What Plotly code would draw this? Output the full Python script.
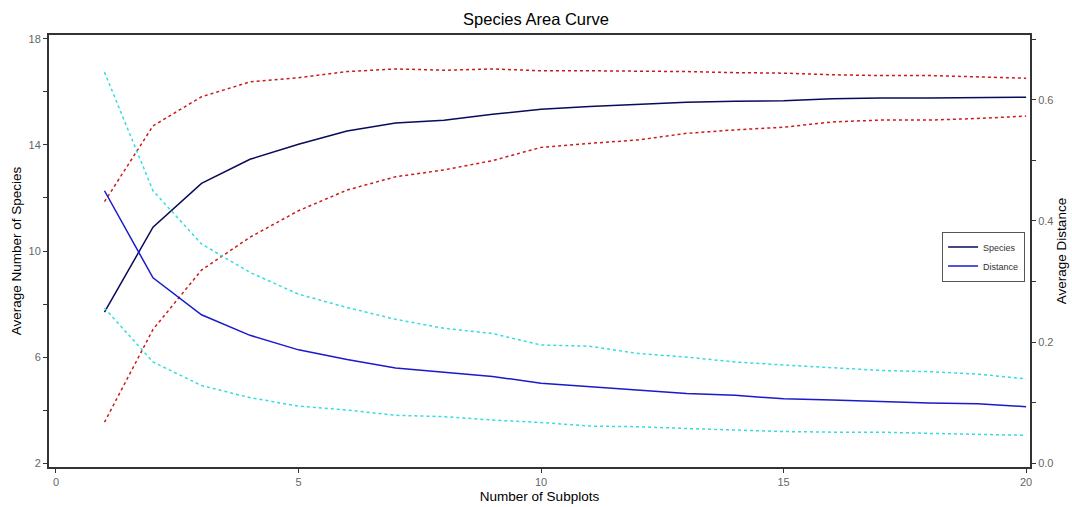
import plotly.graph_objects as go

subplots = list(range(1, 21))

species = [7.69, 10.9, 12.55, 13.46, 14.03, 14.53, 14.83, 14.93, 15.16, 15.35,
           15.45, 15.52, 15.61, 15.65, 15.67, 15.74, 15.77, 15.77, 15.78, 15.8]
species_upper = [11.86, 14.72, 15.82, 16.38, 16.54, 16.77, 16.87, 16.82, 16.87, 16.8,
                 16.8, 16.79, 16.77, 16.73, 16.71, 16.65, 16.62, 16.62, 16.58, 16.52]
species_lower = [3.54, 7.04, 9.28, 10.52, 11.52, 12.3, 12.8, 13.06, 13.41, 13.91,
                 14.06, 14.19, 14.44, 14.57, 14.67, 14.87, 14.94, 14.94, 15.0, 15.09]

distance = [0.45, 0.306, 0.245, 0.211, 0.187, 0.171, 0.157, 0.15, 0.143, 0.132,
            0.126, 0.121, 0.115, 0.112, 0.106, 0.104, 0.101, 0.099, 0.098, 0.093]
distance_upper = [0.646, 0.45, 0.362, 0.315, 0.279, 0.257, 0.2375, 0.2226, 0.214, 0.195,
                  0.193, 0.181, 0.175, 0.167, 0.162, 0.157, 0.153, 0.151, 0.147, 0.139]
distance_lower = [0.256, 0.167, 0.128, 0.108, 0.094, 0.0876, 0.0788, 0.0766, 0.071, 0.067,
                  0.061, 0.06, 0.057, 0.0545, 0.052, 0.051, 0.051, 0.049, 0.048, 0.0458]

left_ticks = [2, 4, 6, 8, 10, 12, 14, 16, 18]
left_labels = ["2", "", "6", "", "10", "", "14", "", "18"]
right_ticks = [0.0, 0.1, 0.2, 0.3, 0.4, 0.5, 0.6, 0.7]
right_labels = ["0.0", "", "0.2", "", "0.4", "", "0.6", ""]
x_ticks = [0, 5, 10, 15, 20]

NAVY = "#0a0a5a"
BLUE = "#1a1acc"
RED = "#cc1a1a"
CYAN = "#33dddd"

fig = go.Figure()
fig.add_trace(go.Scatter(x=subplots, y=species_upper, mode="lines",
                         line=dict(color=RED, width=1.5, dash="3px,3px"), showlegend=False))
fig.add_trace(go.Scatter(x=subplots, y=species_lower, mode="lines",
                         line=dict(color=RED, width=1.5, dash="3px,3px"), showlegend=False))
fig.add_trace(go.Scatter(x=subplots, y=distance_upper, mode="lines", yaxis="y2",
                         line=dict(color=CYAN, width=1.5, dash="3px,3px"), showlegend=False))
fig.add_trace(go.Scatter(x=subplots, y=distance_lower, mode="lines", yaxis="y2",
                         line=dict(color=CYAN, width=1.5, dash="3px,3px"), showlegend=False))
fig.add_trace(go.Scatter(x=subplots, y=species, mode="lines", name="Species",
                         line=dict(color=NAVY, width=1.5)))
fig.add_trace(go.Scatter(x=subplots, y=distance, mode="lines", name="Distance", yaxis="y2",
                         line=dict(color=BLUE, width=1.5)))

tickfont = dict(family="Liberation Sans, Arial, sans-serif", size=11, color="#666666")
titlefont = dict(family="Liberation Sans, Arial, sans-serif", size=13.5, color="#000000")

fig.update_layout(
    width=1072, height=507,
    margin=dict(l=49, r=42, t=35, b=40, autoexpand=False),
    paper_bgcolor="white", plot_bgcolor="white",
    title=dict(text="Species Area Curve", x=0.5, xanchor="center", y=0.962, yanchor="middle",
               font=dict(family="Liberation Sans, Arial, sans-serif", size=16.5, color="#000000")),
    xaxis=dict(range=[-0.144, 20.08], tickvals=x_ticks, showgrid=False, zeroline=False,
               automargin=False,
               showline=True, linecolor="#333333", linewidth=2, mirror=True,
               ticks="outside", ticklen=4, tickcolor="#333333", tickfont=tickfont,
               title=dict(text="Number of Subplots", font=titlefont, standoff=4)),
    yaxis=dict(range=[1.85, 18.15], tickvals=left_ticks, ticktext=left_labels,
               automargin=False,
               showgrid=False, zeroline=False, showline=True, linecolor="#333333", linewidth=2,
               ticks="outside", ticklen=4, tickcolor="#333333", tickfont=tickfont,
               title=dict(text="Average Number of Species", font=titlefont, standoff=4)),
    yaxis2=dict(range=[-0.0066, 0.7074], tickvals=right_ticks, ticktext=right_labels,
                automargin=False,
                overlaying="y", side="right", showgrid=False, zeroline=False,
                showline=True, linecolor="#333333", linewidth=2,
                ticks="outside", ticklen=4, tickcolor="#333333", tickfont=tickfont,
                title=dict(text="Average Distance", font=titlefont, standoff=4)),
    legend=dict(x=0.995, xanchor="right", y=0.545, yanchor="top",
                bgcolor="white", bordercolor="#555555", borderwidth=1,
                font=dict(family="Liberation Sans, Arial, sans-serif", size=9, color="#333333"),
                tracegroupgap=0, itemwidth=30),
    showlegend=True,
)

fig.write_html("out.html")
